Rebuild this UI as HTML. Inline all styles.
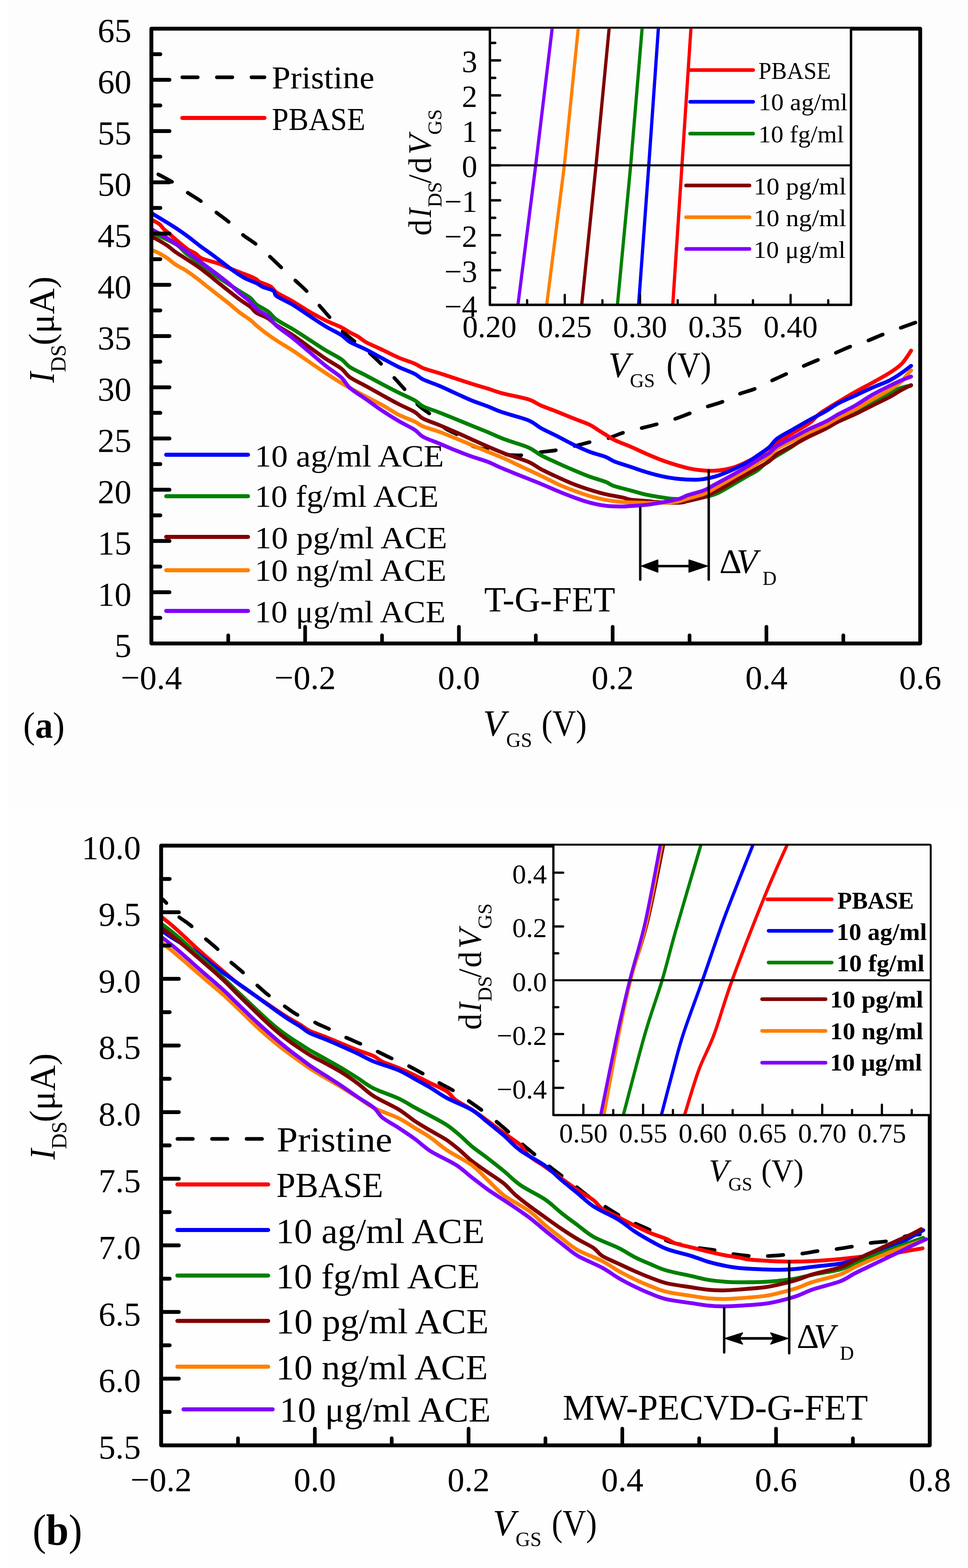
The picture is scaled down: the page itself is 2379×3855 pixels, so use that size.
<!DOCTYPE html>
<html><head><meta charset="utf-8"><title>Figure</title>
<style>html,body{margin:0;padding:0;background:#fff;}svg{display:block;}</style>
</head><body>
<svg xmlns="http://www.w3.org/2000/svg" width="2379" height="3855" viewBox="0 0 2379 3855" font-family='"Liberation Serif", "DejaVu Serif", serif'>
<defs>
<clipPath id="ca"><rect x="372" y="70.5" width="1889.5" height="1511.5"/></clipPath>
<clipPath id="cia"><rect x="1204" y="70.5" width="887.5" height="679"/></clipPath>
<clipPath id="cb"><rect x="396" y="2079" width="1889" height="1474.5"/></clipPath>
<clipPath id="cib"><rect x="1360" y="2079" width="925" height="662.5"/></clipPath>
</defs>
<rect x="0" y="0" width="2379" height="3855" fill="#ffffff"/>
<rect x="17" y="0" width="2362" height="1984" fill="#fdfdfd"/>
<rect x="17" y="1984" width="2362" height="1871" fill="#fefefe"/>
<g id="panel-a">
<path d="M374 421 C376 422 377.3 422.3 386 427 C394.7 431.7 414.2 441.7 426 449 C437.8 456.3 445.3 463.2 457 471 C468.7 478.8 484.3 488 496 496 C507.7 504 515.7 510.5 527 519 C538.3 527.5 552.7 537.5 564 547 C575.3 556.5 584 567 595 576 C606 585 619.3 592.5 630 601 C640.7 609.5 648 616.8 659 627 C670 637.2 685.2 651.8 696 662 C706.8 672.2 713.8 678.5 724 688 C734.2 697.5 747.2 708.8 757 719 C766.8 729.2 774 738.7 783 749 C792 759.3 801.7 770.5 811 781 C820.3 791.5 828.8 802.2 839 812 C849.2 821.8 861 831.2 872 840 C883 848.8 893.7 855.3 905 865 C916.3 874.7 929.5 887.5 940 898 C950.5 908.5 958.7 917.8 968 928 C977.3 938.2 986 947.7 996 959 C1006 970.3 1017.7 986 1028 996 C1038.3 1006 1047 1009.5 1058 1019 C1069 1028.5 1082.8 1044.7 1094 1053 C1105.2 1061.3 1114.2 1062 1125 1069 C1135.8 1076 1147 1088.8 1159 1095 C1171 1101.2 1184.2 1102.5 1197 1106 C1209.8 1109.5 1225.5 1113.8 1236 1116 C1246.5 1118.2 1252.2 1118.5 1260 1119 C1267.8 1119.5 1272 1120.2 1283 1119 C1294 1117.8 1312.2 1114 1326 1112 C1339.8 1110 1352.5 1109.3 1366 1107 C1379.5 1104.7 1393 1101.3 1407 1098 C1421 1094.7 1436.2 1090.2 1450 1087 C1463.8 1083.8 1476.5 1082.8 1490 1079 C1503.5 1075.2 1517.5 1068.2 1531 1064 C1544.5 1059.8 1557.2 1057.5 1571 1054 C1584.8 1050.5 1600.3 1046.7 1614 1043 C1627.7 1039.3 1639.3 1036.5 1653 1032 C1666.7 1027.5 1682.5 1021.2 1696 1016 C1709.5 1010.8 1720.8 1005.7 1734 1001 C1747.2 996.3 1761.8 993.2 1775 988 C1788.2 982.8 1799.7 975.3 1813 970 C1826.3 964.7 1841.8 961.3 1855 956 C1868.2 950.7 1879.3 944 1892 938 C1904.7 932 1918 926 1931 920 C1944 914 1956.8 907.8 1970 902 C1983.2 896.2 1997 890.3 2010 885 C2023 879.7 2034.7 875.5 2048 870 C2061.3 864.5 2076.5 857.2 2090 852 C2103.5 846.8 2116 843.8 2129 839 C2142 834.2 2154.8 828.2 2168 823 C2181.2 817.8 2194.3 813 2208 808 C2221.7 803 2243 795.5 2250 793" fill="none" stroke="#000000" stroke-width="9" stroke-linecap="round" stroke-linejoin="round" stroke-dasharray="38 47.5" stroke-dashoffset="-17" clip-path="url(#ca)"/>
<path d="M372 539.7 C375.3 541.6 386.8 547.3 391.8 551.1 C396.8 554.9 397.7 558.5 401.8 562.5 C405.9 566.5 411.7 570.9 416.6 575.1 C421.6 579.4 426.5 584 431.5 588.3 C436.5 592.6 441.4 596.9 446.4 601 C451.4 605 455.5 609 461.3 612.9 C467.1 616.7 475.3 620 481.1 623.8 C486.9 627.5 486.9 631.3 496 635.3 C505.1 639.3 524.8 643.7 535.8 647.6 C546.8 651.6 553.5 655.1 562.3 658.7 C571.1 662.3 579.9 665.8 588.7 669.2 C597.5 672.7 608.3 676.6 615.2 679.5 C622.1 682.4 626 684.2 630 686.5 C634 688.9 633 690.6 638.9 693.5 C644.8 696.5 658.4 700.2 665.3 704.5 C672.1 708.8 670.9 713.3 680 719.3 C689.1 725.4 706.5 733.2 719.7 741 C732.9 748.7 746.2 757.9 759.4 765.6 C772.6 773.3 785.8 780.6 799 787.2 C812.2 793.7 828.5 799.8 838.7 804.8 C848.9 809.8 853.1 813.5 860 817.3 C866.9 821.1 873.4 823.6 880 827.6 C886.6 831.6 889.8 835.9 899.7 841.3 C909.6 846.7 926.2 853.6 939.4 859.9 C952.6 866.1 965.8 873.4 979 879 C992.2 884.7 1008.5 889.5 1018.7 893.8 C1028.9 898.2 1029.8 901.2 1040 905.1 C1050.2 909.1 1066.5 913.2 1079.7 917.5 C1092.9 921.7 1106.2 926.3 1119.4 930.6 C1132.6 935 1145.8 939.4 1159 943.5 C1172.2 947.6 1186 951.4 1198.7 955.4 C1211.4 959.3 1218.4 962.8 1235 967.2 C1251.6 971.6 1282.6 976.8 1298.4 981.8 C1314.2 986.8 1318.1 992.1 1330 997.2 C1341.9 1002.3 1356.5 1007.2 1369.7 1012.5 C1382.9 1017.8 1396.2 1023.4 1409.4 1028.7 C1422.6 1034 1438.9 1039.4 1449 1044.2 C1459.1 1048.9 1463.4 1053.1 1470 1057.2 C1476.6 1061.4 1482 1064.8 1488.7 1068.9 C1495.4 1073 1499.8 1076.9 1510 1081.8 C1520.2 1086.6 1536.5 1092.5 1549.7 1098.2 C1562.9 1103.9 1576.2 1110.4 1589.4 1116.1 C1602.6 1121.7 1615.8 1127.4 1629 1132.2 C1642.2 1137.1 1656.9 1141.6 1668.7 1145.1 C1680.5 1148.5 1689.8 1151 1700 1152.9 C1710.2 1154.9 1720.4 1156 1729.7 1156.7 C1739 1157.4 1747.2 1157.7 1756 1157.2 C1764.8 1156.8 1773.8 1155.8 1782.6 1154.1 C1791.4 1152.4 1800.3 1150.2 1809 1147.1 C1817.7 1144.1 1826.2 1140.2 1835 1135.8 C1843.8 1131.5 1853.7 1126.1 1862 1121 C1870.3 1115.9 1877 1111 1885 1105.3 C1893 1099.7 1899 1094.1 1909.7 1087.2 C1920.4 1080.3 1936.2 1071.8 1949.4 1064 C1962.6 1056.2 1978 1048.5 1989 1040.5 C2000 1032.6 2003.7 1024.9 2015.5 1016.2 C2027.3 1007.5 2045.6 997.1 2060 988.4 C2074.4 979.6 2087.8 971.6 2101.7 963.7 C2115.6 955.9 2129.4 949 2143.3 941.3 C2157.2 933.6 2173.4 924.8 2185 917.5 C2196.6 910.2 2205.9 903.6 2212.8 897.5 C2219.8 891.4 2222.3 886.8 2226.7 880.9 C2231.1 875 2237.1 865.1 2239.2 862" fill="none" stroke="#ff0000" stroke-width="9.5" stroke-linecap="round" stroke-linejoin="round" clip-path="url(#ca)"/>
<path d="M372 523.8 C377 526.8 391.9 535.6 401.8 541.7 C411.7 547.8 421.6 553.7 431.5 560.3 C441.4 566.9 451.4 573.8 461.3 581.1 C471.2 588.4 480.9 596.6 491 604.2 C501.1 611.8 512.3 619.3 522 626.5 C531.7 633.7 540.1 640.4 549 647.1 C557.9 653.9 566.7 660.9 575.5 667.1 C584.3 673.3 592.9 679.3 602 684.1 C611.1 689 622.8 692.5 630 696.1 C637.2 699.6 638.5 702.3 645.5 705.4 C652.5 708.6 666.2 711.2 672 715 C677.8 718.8 672 722.3 680 728.1 C688 733.8 706.5 741.6 719.7 749.5 C732.9 757.5 746.2 767.2 759.4 775.9 C772.6 784.6 785.8 793.7 799 801.7 C812.2 809.7 828.5 817.2 838.7 823.7 C848.9 830.2 849.8 834.9 860 840.8 C870.2 846.7 886.5 852.6 899.7 859.4 C912.9 866.1 926.2 873.9 939.4 881 C952.6 888.1 965.8 895.5 979 901.9 C992.2 908.2 1008.5 913.9 1018.7 919.1 C1028.9 924.3 1029.8 928.1 1040 933.1 C1050.2 938 1066.5 943 1079.7 948.6 C1092.9 954.2 1106.2 960.7 1119.4 966.7 C1132.6 972.6 1145.8 979.1 1159 984.5 C1172.2 989.9 1185.9 994.2 1198.7 999.1 C1211.5 1004.1 1219.4 1008.4 1236 1014.1 C1252.6 1019.8 1282.7 1026.9 1298.4 1033.4 C1314.1 1039.8 1318.1 1046.2 1330 1052.8 C1341.9 1059.3 1356.5 1065.8 1369.7 1072.5 C1382.9 1079.2 1396.2 1086.8 1409.4 1093.2 C1422.6 1099.5 1435.8 1105.6 1449 1110.7 C1462.2 1115.8 1478.5 1119.5 1488.7 1123.5 C1498.9 1127.5 1499.8 1130.6 1510 1134.7 C1520.2 1138.7 1536.5 1143.4 1549.7 1147.8 C1562.9 1152.2 1576.2 1157.1 1589.4 1161 C1602.6 1165 1615.8 1168.6 1629 1171.3 C1642.2 1174 1655.2 1176.2 1668.7 1177.5 C1682.2 1178.9 1699.8 1179.4 1710 1179.4 C1720.2 1179.4 1722 1178.9 1729.7 1177.7 C1737.4 1176.5 1747.2 1174.6 1756 1172.1 C1764.8 1169.6 1773.8 1166.1 1782.6 1162.6 C1791.4 1159 1800.2 1155.2 1809 1151 C1817.8 1146.8 1826.7 1142.6 1835.5 1137.4 C1844.3 1132.2 1852.9 1126 1862 1119.8 C1871.1 1113.5 1882 1106.8 1890 1099.9 C1898 1093 1899.8 1086 1909.7 1078.5 C1919.6 1071.1 1936.2 1062.9 1949.4 1055.3 C1962.6 1047.7 1975.8 1040 1989 1032.7 C2002.2 1025.4 2016.9 1018.3 2028.7 1011.5 C2040.5 1004.6 2047.8 998.2 2060 991.8 C2072.2 985.3 2087.8 979 2101.7 972.6 C2115.6 966.1 2129.4 959.4 2143.3 953.3 C2157.2 947.2 2173.4 941.6 2185 935.9 C2196.6 930.2 2203.8 925.2 2212.8 919.1 C2221.8 913 2234.8 902.7 2239.2 899.4" fill="none" stroke="#0000ff" stroke-width="9.5" stroke-linecap="round" stroke-linejoin="round" clip-path="url(#ca)"/>
<path d="M372 571.4 C381.9 576.2 417.4 591.5 431.5 600 C445.6 608.4 447.9 615.3 456.5 622.3 C465.1 629.3 474.1 635.4 482.9 642 C491.7 648.6 500.6 655.4 509.4 662 C518.2 668.6 527 675.3 535.8 681.5 C544.6 687.7 553.5 693.3 562.3 699 C571.1 704.7 579.9 710.2 588.7 715.8 C597.5 721.3 608.3 727 615.2 732.4 C622.1 737.9 622.8 742.8 630 748.4 C637.2 753.9 650.4 759.6 658.7 765.9 C667 772.2 669.8 778.8 680 786 C690.2 793.2 706.5 801.2 719.7 809.3 C732.9 817.4 746.2 826.2 759.4 834.7 C772.6 843.2 785.8 852.3 799 860.4 C812.2 868.4 828.5 876.2 838.7 883.2 C848.9 890.3 849.8 895.9 860 902.5 C870.2 909.2 886.5 916.2 899.7 923.2 C912.9 930.2 926.2 937.6 939.4 944.5 C952.6 951.5 965.8 958.4 979 965 C992.2 971.6 1008.5 978.3 1018.7 984 C1028.9 989.7 1029.8 994.2 1040 999.2 C1050.2 1004.2 1066.5 1008.9 1079.7 1014.1 C1092.9 1019.3 1106.2 1024.8 1119.4 1030.2 C1132.6 1035.5 1145.8 1041 1159 1046.3 C1172.2 1051.7 1185.2 1056.8 1198.7 1062.4 C1212.2 1068 1223.4 1073.8 1240 1080 C1256.6 1086.3 1283.4 1093.5 1298.4 1100.1 C1313.4 1106.7 1318.1 1113.2 1330 1119.5 C1341.9 1125.9 1356.5 1132.1 1369.7 1138.2 C1382.9 1144.2 1396.2 1150 1409.4 1155.7 C1422.6 1161.3 1435.8 1167 1449 1171.8 C1462.2 1176.7 1478.8 1181 1488.7 1184.8 C1498.6 1188.6 1498.4 1191.2 1508.6 1194.7 C1518.8 1198.1 1536.2 1202.1 1549.7 1205.8 C1563.2 1209.4 1576.2 1213.5 1589.4 1216.4 C1602.6 1219.3 1618 1221.5 1629 1223.2 C1640 1224.9 1645.3 1225.9 1655.5 1226.6 C1665.7 1227.4 1679.2 1228 1690 1227.6 C1700.8 1227.3 1709 1226.5 1720 1224.5 C1731 1222.5 1745.6 1219.3 1756 1215.6 C1766.4 1211.9 1773.8 1207 1782.6 1202.2 C1791.4 1197.3 1800.2 1191.8 1809 1186.7 C1817.8 1181.5 1826.7 1176.2 1835.5 1171.1 C1844.3 1166 1852.9 1162.4 1862 1156 C1871.1 1149.7 1875.5 1142.8 1890 1132.8 C1904.5 1122.8 1930.7 1108.4 1949 1096.2 C1967.3 1084.1 1981.5 1070.3 2000 1059.8 C2018.5 1049.2 2043 1040.8 2060 1032.8 C2077 1024.7 2088.2 1018.5 2102 1011.2 C2115.8 1004 2129.2 996.5 2143 989.2 C2156.8 982 2173.3 973.9 2185 968 C2196.7 962.1 2204 957.3 2213 954 C2222 950.7 2234.7 949 2239 948" fill="none" stroke="#008000" stroke-width="9.5" stroke-linecap="round" stroke-linejoin="round" clip-path="url(#ca)"/>
<path d="M372 581.3 C375.3 583 385.2 588 391.8 591.8 C398.4 595.6 405.2 599.6 411.7 604.2 C418.2 608.8 423.5 614 431 619.3 C438.5 624.6 447.9 630.2 456.5 635.9 C465.1 641.5 474.1 647.1 482.9 653.2 C491.7 659.4 500.6 666 509.4 672.9 C518.2 679.7 527 687.3 535.8 694.4 C544.6 701.5 553.5 708.6 562.3 715.5 C571.1 722.5 579.9 729.6 588.7 736.1 C597.5 742.5 608.3 748.9 615.2 754.4 C622.1 759.9 622.8 764.2 630 769 C637.2 773.7 650.4 777.5 658.7 782.7 C667 787.9 669.8 793.1 680 800 C690.2 806.9 706.5 815.3 719.7 824.1 C732.9 832.9 746.2 843.3 759.4 852.8 C772.6 862.2 785.8 872.1 799 881 C812.2 889.9 828.5 898.3 838.7 906 C848.9 913.8 849.8 920.4 860 927.6 C870.2 934.8 886.5 942 899.7 949.3 C912.9 956.7 926.2 964.4 939.4 971.6 C952.6 978.9 965.8 986.3 979 993.1 C992.2 1000 1008.5 1006.6 1018.7 1012.6 C1028.9 1018.7 1029.8 1023.9 1040 1029.3 C1050.2 1034.7 1066.5 1039.7 1079.7 1045.1 C1092.9 1050.6 1106.2 1056.4 1119.4 1062.2 C1132.6 1068 1145.8 1074.2 1159 1080.1 C1172.2 1086 1184.5 1091.7 1198.7 1097.7 C1212.9 1103.8 1227.4 1110.1 1244 1116.4 C1260.6 1122.7 1284.1 1129.2 1298.4 1135.4 C1312.7 1141.6 1318.1 1147.5 1330 1153.7 C1341.9 1159.9 1356.5 1166.7 1369.7 1172.7 C1382.9 1178.8 1396.2 1184.9 1409.4 1190.1 C1422.6 1195.3 1435.8 1199.8 1449 1204 C1462.2 1208.2 1475.2 1212 1488.7 1215.2 C1502.2 1218.4 1519.8 1221 1530 1223.2 C1540.2 1225.4 1539.8 1227 1549.7 1228.4 C1559.6 1229.8 1578.4 1230.8 1589.4 1231.8 C1600.4 1232.8 1602.6 1233.8 1615.8 1234.5 C1629 1235.2 1656.3 1236.4 1668.7 1236 C1681.1 1235.5 1679.8 1234.3 1690 1231.9 C1700.2 1229.6 1718.7 1225.7 1729.7 1222 C1740.7 1218.3 1747.2 1214 1756 1209.7 C1764.8 1205.3 1773.8 1200.5 1782.6 1195.6 C1791.4 1190.7 1800.2 1185.4 1809 1180.4 C1817.8 1175.4 1826.7 1170.5 1835.5 1165.5 C1844.3 1160.5 1852.9 1155.6 1862 1150.4 C1871.1 1145.2 1882 1140 1890 1134.3 C1898 1128.6 1899.8 1122.7 1909.7 1116.1 C1919.6 1109.5 1936.2 1101.8 1949.4 1094.6 C1962.6 1087.5 1975.8 1079.8 1989 1073.1 C2002.2 1066.4 2016.9 1060.4 2028.7 1054.3 C2040.5 1048.3 2047.8 1042.7 2060 1036.7 C2072.2 1030.7 2087.8 1024.8 2101.7 1018.2 C2115.6 1011.7 2129.4 1004.3 2143.3 997.4 C2157.2 990.5 2173.4 983 2185 976.9 C2196.6 970.7 2203.8 965.4 2212.8 960.4 C2221.8 955.4 2234.8 949 2239.2 946.7" fill="none" stroke="#800000" stroke-width="9.5" stroke-linecap="round" stroke-linejoin="round" clip-path="url(#ca)"/>
<path d="M372 614.1 C375.3 615.6 385.2 619.5 391.8 623 C398.4 626.5 405.3 630.6 411.7 635 C418.1 639.5 422.5 644.5 430 649.4 C437.5 654.4 447.7 659.1 456.5 664.8 C465.3 670.5 474.1 676.8 482.9 683.5 C491.7 690.1 500.6 697.7 509.4 704.6 C518.2 711.6 527 718.3 535.8 725.2 C544.6 732.1 553.5 738.8 562.3 746 C571.1 753.2 579.9 761.4 588.7 768.1 C597.5 774.9 608.3 781.4 615.2 786.7 C622.1 792.1 624.2 795.3 630 800.2 C635.8 805.2 641.7 810 650 816.2 C658.3 822.4 668.4 829.7 680 837.4 C691.6 845 706.5 853.4 719.7 862 C732.9 870.7 746.2 880.3 759.4 889.3 C772.6 898.3 785.8 907.5 799 916.2 C812.2 925 824.1 932.9 838.7 941.6 C853.3 950.3 869.7 959.3 886.5 968.3 C903.3 977.3 924 987.3 939.4 995.8 C954.8 1004.3 965.8 1012.5 979 1019.2 C992.2 1026 1008.5 1031.4 1018.7 1036.3 C1028.9 1041.2 1029.8 1044.3 1040 1048.5 C1050.2 1052.7 1066.5 1056.7 1079.7 1061.6 C1092.9 1066.4 1106.2 1072 1119.4 1077.4 C1132.6 1082.8 1145.8 1088.5 1159 1094 C1172.2 1099.5 1185.2 1104.9 1198.7 1110.5 C1212.2 1116.1 1226.1 1121.4 1240 1127.5 C1253.9 1133.7 1266.9 1140.5 1281.9 1147.5 C1296.9 1154.6 1315.4 1162.9 1330 1170 C1344.6 1177 1356.5 1183.7 1369.7 1189.7 C1382.9 1195.7 1396.2 1201 1409.4 1205.9 C1422.6 1210.9 1435.8 1215.6 1449 1219.5 C1462.2 1223.4 1475.2 1226.6 1488.7 1229.1 C1502.2 1231.5 1513.2 1233 1530 1234.2 C1546.8 1235.3 1572.9 1235.8 1589.4 1236.2 C1605.9 1236.5 1616.4 1236.6 1629 1236.1 C1641.6 1235.6 1654.8 1234.9 1665 1233.2 C1675.2 1231.5 1679.2 1229.1 1690 1226 C1700.8 1222.8 1718.7 1218.7 1729.7 1214.4 C1740.7 1210.2 1747.2 1205.4 1756 1200.5 C1764.8 1195.7 1773.8 1190.4 1782.6 1185.3 C1791.4 1180.2 1800.2 1174.9 1809 1169.8 C1817.8 1164.7 1826.7 1159.8 1835.5 1154.6 C1844.3 1149.4 1852.9 1144 1862 1138.5 C1871.1 1133 1882 1127.3 1890 1121.5 C1898 1115.6 1899.8 1109.8 1909.7 1103.3 C1919.6 1096.8 1936.2 1089.5 1949.4 1082.7 C1962.6 1075.9 1975.8 1068.9 1989 1062.5 C2002.2 1056.2 2016.9 1050.7 2028.7 1044.8 C2040.5 1038.8 2047.8 1033.4 2060 1027 C2072.2 1020.7 2087.8 1014 2101.7 1006.6 C2115.6 999.1 2129.4 990.3 2143.3 982.4 C2157.2 974.5 2173.4 966.2 2185 959.2 C2196.6 952.1 2205.9 946.1 2212.8 940.2 C2219.8 934.4 2222.3 929.2 2226.7 924.3 C2231.1 919.4 2237.1 912.9 2239.2 910.6" fill="none" stroke="#ff8000" stroke-width="9.5" stroke-linecap="round" stroke-linejoin="round" clip-path="url(#ca)"/>
<path d="M372 563.5 C375.3 565.3 385.2 570.4 391.8 574.1 C398.4 577.9 405.1 581.6 411.7 585.8 C418.3 590 424 594.1 431.5 599.2 C439 604.3 447.9 610.2 456.5 616.4 C465.1 622.6 474.1 629.7 482.9 636.4 C491.7 643 500.6 649.8 509.4 656.4 C518.2 663 527 669.2 535.8 675.9 C544.6 682.6 553.5 689.3 562.3 696.7 C571.1 704.1 579.9 712.9 588.7 720.5 C597.5 728.1 608.3 735.7 615.2 742.2 C622.1 748.7 622.8 753.5 630 759.4 C637.2 765.4 650.4 770.7 658.7 777.7 C667 784.7 669.8 792.4 680 801.3 C690.2 810.2 706.5 820.7 719.7 831.3 C732.9 841.9 746.2 853.5 759.4 864.7 C772.6 875.8 785.8 887.7 799 898.2 C812.2 908.8 828.5 918.8 838.7 928 C848.9 937.3 849.8 945 860 953.9 C870.2 962.9 886.5 972.4 899.7 981.7 C912.9 991 926.2 1001 939.4 1009.8 C952.6 1018.6 965.8 1026.9 979 1034.7 C992.2 1042.5 1008.5 1049.9 1018.7 1056.5 C1028.9 1063.1 1029.8 1068.6 1040 1074.2 C1050.2 1079.9 1066.5 1085 1079.7 1090.5 C1092.9 1096 1106.2 1101.9 1119.4 1107.2 C1132.6 1112.5 1145.7 1117.6 1159 1122.3 C1172.3 1127 1186.8 1130.8 1199 1135.5 C1211.2 1140.1 1218.8 1144.7 1232.3 1150.5 C1245.8 1156.2 1263.7 1163.3 1280 1169.9 C1296.3 1176.4 1315 1183.6 1330 1189.8 C1345 1196 1356.5 1201.5 1369.7 1206.9 C1382.9 1212.4 1396.2 1217.7 1409.4 1222.5 C1422.6 1227.3 1435.8 1232.2 1449 1235.7 C1462.2 1239.2 1475.2 1241.9 1488.7 1243.5 C1502.2 1245.1 1519.8 1245.2 1530 1245.2 C1540.2 1245.3 1539.8 1244.6 1549.7 1244 C1559.6 1243.3 1576.2 1242.6 1589.4 1241.1 C1602.6 1239.5 1615.8 1237.2 1629 1234.8 C1642.2 1232.4 1658.5 1229.4 1668.7 1226.5 C1678.9 1223.7 1679.8 1221.1 1690 1217.6 C1700.2 1214.1 1718.7 1209.9 1729.7 1205.6 C1740.7 1201.3 1747.2 1196.3 1756 1191.7 C1764.8 1187 1773.8 1182.2 1782.6 1177.4 C1791.4 1172.6 1800.2 1167.8 1809 1162.9 C1817.8 1157.9 1826.7 1153 1835.5 1147.7 C1844.3 1142.3 1852.9 1136.5 1862 1130.9 C1871.1 1125.3 1882 1119.9 1890 1114.2 C1898 1108.5 1899.8 1103.1 1909.7 1096.7 C1919.6 1090.2 1936.2 1082.4 1949.4 1075.4 C1962.6 1068.4 1975.8 1061 1989 1054.6 C2002.2 1048.2 2016.9 1042.7 2028.7 1036.8 C2040.5 1030.8 2047.8 1025.4 2060 1018.8 C2072.2 1012.2 2087.8 1005 2101.7 997 C2115.6 989 2129.4 978.9 2143.3 971 C2157.2 963 2173.4 955.1 2185 949.3 C2196.6 943.5 2203.8 940 2212.8 936.1 C2221.8 932.2 2234.8 927.5 2239.2 925.8" fill="none" stroke="#8000ff" stroke-width="9.5" stroke-linecap="round" stroke-linejoin="round" clip-path="url(#ca)"/>
<rect x="372" y="70.5" width="1889.5" height="1511.5" fill="none" stroke="#000" stroke-width="9.5" stroke-linejoin="round"/>
<line x1="372" y1="1519.1" x2="394" y2="1519.1" stroke="#000000" stroke-width="9.5" stroke-linecap="round"/>
<line x1="372" y1="1456.1" x2="416.5" y2="1456.1" stroke="#000000" stroke-width="9.5" stroke-linecap="round"/>
<line x1="372" y1="1393.1" x2="394" y2="1393.1" stroke="#000000" stroke-width="9.5" stroke-linecap="round"/>
<line x1="372" y1="1330.1" x2="416.5" y2="1330.1" stroke="#000000" stroke-width="9.5" stroke-linecap="round"/>
<line x1="372" y1="1267.1" x2="394" y2="1267.1" stroke="#000000" stroke-width="9.5" stroke-linecap="round"/>
<line x1="372" y1="1204.1" x2="416.5" y2="1204.1" stroke="#000000" stroke-width="9.5" stroke-linecap="round"/>
<line x1="372" y1="1141.1" x2="394" y2="1141.1" stroke="#000000" stroke-width="9.5" stroke-linecap="round"/>
<line x1="372" y1="1078.1" x2="416.5" y2="1078.1" stroke="#000000" stroke-width="9.5" stroke-linecap="round"/>
<line x1="372" y1="1015.1" x2="394" y2="1015.1" stroke="#000000" stroke-width="9.5" stroke-linecap="round"/>
<line x1="372" y1="952.2" x2="416.5" y2="952.2" stroke="#000000" stroke-width="9.5" stroke-linecap="round"/>
<line x1="372" y1="889.2" x2="394" y2="889.2" stroke="#000000" stroke-width="9.5" stroke-linecap="round"/>
<line x1="372" y1="826.2" x2="416.5" y2="826.2" stroke="#000000" stroke-width="9.5" stroke-linecap="round"/>
<line x1="372" y1="763.2" x2="394" y2="763.2" stroke="#000000" stroke-width="9.5" stroke-linecap="round"/>
<line x1="372" y1="700.2" x2="416.5" y2="700.2" stroke="#000000" stroke-width="9.5" stroke-linecap="round"/>
<line x1="372" y1="637.2" x2="394" y2="637.2" stroke="#000000" stroke-width="9.5" stroke-linecap="round"/>
<line x1="372" y1="574.2" x2="416.5" y2="574.2" stroke="#000000" stroke-width="9.5" stroke-linecap="round"/>
<line x1="372" y1="511.2" x2="394" y2="511.2" stroke="#000000" stroke-width="9.5" stroke-linecap="round"/>
<line x1="372" y1="448.2" x2="416.5" y2="448.2" stroke="#000000" stroke-width="9.5" stroke-linecap="round"/>
<line x1="372" y1="385.3" x2="394" y2="385.3" stroke="#000000" stroke-width="9.5" stroke-linecap="round"/>
<line x1="372" y1="322.3" x2="416.5" y2="322.3" stroke="#000000" stroke-width="9.5" stroke-linecap="round"/>
<line x1="372" y1="259.3" x2="394" y2="259.3" stroke="#000000" stroke-width="9.5" stroke-linecap="round"/>
<line x1="372" y1="196.3" x2="416.5" y2="196.3" stroke="#000000" stroke-width="9.5" stroke-linecap="round"/>
<line x1="372" y1="133.3" x2="394" y2="133.3" stroke="#000000" stroke-width="9.5" stroke-linecap="round"/>
<line x1="560.9" y1="1582" x2="560.9" y2="1562" stroke="#000000" stroke-width="9" stroke-linecap="round"/>
<line x1="749.9" y1="1582" x2="749.9" y2="1541" stroke="#000000" stroke-width="9" stroke-linecap="round"/>
<line x1="938.9" y1="1582" x2="938.9" y2="1562" stroke="#000000" stroke-width="9" stroke-linecap="round"/>
<line x1="1127.8" y1="1582" x2="1127.8" y2="1541" stroke="#000000" stroke-width="9" stroke-linecap="round"/>
<line x1="1316.8" y1="1582" x2="1316.8" y2="1562" stroke="#000000" stroke-width="9" stroke-linecap="round"/>
<line x1="1505.7" y1="1582" x2="1505.7" y2="1541" stroke="#000000" stroke-width="9" stroke-linecap="round"/>
<line x1="1694.7" y1="1582" x2="1694.7" y2="1562" stroke="#000000" stroke-width="9" stroke-linecap="round"/>
<line x1="1883.6" y1="1582" x2="1883.6" y2="1541" stroke="#000000" stroke-width="9" stroke-linecap="round"/>
<line x1="2072.6" y1="1582" x2="2072.6" y2="1562" stroke="#000000" stroke-width="9" stroke-linecap="round"/>
<text x="323" y="1615.1" font-size="83" text-anchor="end">5</text>
<text x="323" y="1489.1" font-size="83" text-anchor="end">10</text>
<text x="323" y="1363.1" font-size="83" text-anchor="end">15</text>
<text x="323" y="1237.1" font-size="83" text-anchor="end">20</text>
<text x="323" y="1111.1" font-size="83" text-anchor="end">25</text>
<text x="323" y="985.2" font-size="83" text-anchor="end">30</text>
<text x="323" y="859.2" font-size="83" text-anchor="end">35</text>
<text x="323" y="733.2" font-size="83" text-anchor="end">40</text>
<text x="323" y="607.2" font-size="83" text-anchor="end">45</text>
<text x="323" y="481.2" font-size="83" text-anchor="end">50</text>
<text x="323" y="355.3" font-size="83" text-anchor="end">55</text>
<text x="323" y="229.3" font-size="83" text-anchor="end">60</text>
<text x="323" y="103.3" font-size="83" text-anchor="end">65</text>
<text x="372" y="1694" font-size="83" text-anchor="middle">&#8722;0.4</text>
<text x="749.9" y="1694" font-size="83" text-anchor="middle">&#8722;0.2</text>
<text x="1127.8" y="1694" font-size="83" text-anchor="middle">0.0</text>
<text x="1505.7" y="1694" font-size="83" text-anchor="middle">0.2</text>
<text x="1883.6" y="1694" font-size="83" text-anchor="middle">0.4</text>
<text x="2261.5" y="1694" font-size="83" text-anchor="middle">0.6</text>
<text x="1187" y="1809" font-size="91" font-style="italic">V</text>
<text x="1244" y="1836" font-size="50">GS</text>
<text x="1331" y="1809" font-size="91" textLength="111" lengthAdjust="spacingAndGlyphs">(V)</text>
<g transform="translate(132,942) rotate(-90)">
<text transform="translate(1,0) scale(0.9,1)" font-size="88" font-style="italic">I</text>
<text x="27" y="29" font-size="53">DS</text>
<text x="93" y="0" font-size="88">(&#956;A)</text>
</g>
<text x="57" y="1814" font-size="92" textLength="102" lengthAdjust="spacingAndGlyphs">(<tspan font-weight="bold">a</tspan>)</text>
<path d="M448 190 L650 190" stroke="#000" stroke-width="9" stroke-linecap="round" stroke-dasharray="38 47"/>
<line x1="448" y1="290" x2="650" y2="290" stroke="#ff0000" stroke-width="10" stroke-linecap="round"/>
<text x="668" y="217" font-size="79" textLength="252" lengthAdjust="spacingAndGlyphs">Pristine</text>
<text x="668" y="319" font-size="79" textLength="230" lengthAdjust="spacingAndGlyphs">PBASE</text>
<line x1="408.5" y1="1118" x2="609.5" y2="1118" stroke="#0000ff" stroke-width="10" stroke-linecap="round"/>
<text x="626" y="1147" font-size="77" textLength="465" lengthAdjust="spacingAndGlyphs">10 ag/ml ACE</text>
<line x1="408.5" y1="1220" x2="609.5" y2="1220" stroke="#008000" stroke-width="10" stroke-linecap="round"/>
<text x="626" y="1246" font-size="77" textLength="452" lengthAdjust="spacingAndGlyphs">10 fg/ml ACE</text>
<line x1="408.5" y1="1320" x2="609.5" y2="1320" stroke="#800000" stroke-width="10" stroke-linecap="round"/>
<text x="626" y="1347.5" font-size="77" textLength="473" lengthAdjust="spacingAndGlyphs">10 pg/ml ACE</text>
<line x1="408.5" y1="1402" x2="609.5" y2="1402" stroke="#ff8000" stroke-width="10" stroke-linecap="round"/>
<text x="626" y="1428" font-size="77" textLength="471" lengthAdjust="spacingAndGlyphs">10 ng/ml ACE</text>
<line x1="408.5" y1="1502" x2="609.5" y2="1502" stroke="#8000ff" stroke-width="10" stroke-linecap="round"/>
<text x="626" y="1530" font-size="77" textLength="469" lengthAdjust="spacingAndGlyphs">10 &#956;g/ml ACE</text>
<text x="1190" y="1503" font-size="87" textLength="322" lengthAdjust="spacingAndGlyphs">T-G-FET</text>
<line x1="1573.5" y1="1248" x2="1573.5" y2="1425" stroke="#000000" stroke-width="6" stroke-linecap="round"/>
<line x1="1741.8" y1="1157" x2="1741.8" y2="1425" stroke="#000000" stroke-width="6" stroke-linecap="round"/>
<line x1="1610" y1="1391.7" x2="1700" y2="1391.7" stroke="#000000" stroke-width="6" stroke-linecap="butt"/>
<path d="M1577.5 1391.7 L1616.5 1377 L1616.5 1406.4 Z" fill="#000" stroke="#000" stroke-width="3" stroke-linejoin="round"/>
<path d="M1737.8 1391.7 L1693.5 1377 L1693.5 1406.4 Z" fill="#000" stroke="#000" stroke-width="3" stroke-linejoin="round"/>
<text x="1768" y="1409" font-size="85">&#916;</text>
<text x="1810" y="1409" font-size="85" font-style="italic">V</text>
<text x="1874" y="1438" font-size="48">D</text>
<rect x="1204" y="70.5" width="887.5" height="679" fill="#fdfdfd"/>
<path d="M1357.5 66 L1316.5 406.4 L1272.5 753" fill="none" stroke="#8000ff" stroke-width="8" stroke-linecap="round" stroke-linejoin="round" clip-path="url(#cia)"/>
<path d="M1421.5 66 L1387 406.4 L1343.2 753" fill="none" stroke="#ff8000" stroke-width="8" stroke-linecap="round" stroke-linejoin="round" clip-path="url(#cia)"/>
<path d="M1497.4 66 L1464.8 406.4 L1429.3 753" fill="none" stroke="#800000" stroke-width="8" stroke-linecap="round" stroke-linejoin="round" clip-path="url(#cia)"/>
<path d="M1578.4 66 L1550 406.4 L1517.1 753" fill="none" stroke="#008000" stroke-width="8" stroke-linecap="round" stroke-linejoin="round" clip-path="url(#cia)"/>
<path d="M1618.3 66 L1594.5 406.4 L1569.2 753" fill="none" stroke="#0000ff" stroke-width="8" stroke-linecap="round" stroke-linejoin="round" clip-path="url(#cia)"/>
<path d="M1698.3 66 L1676 406.4 L1653.2 753" fill="none" stroke="#ff0000" stroke-width="8" stroke-linecap="round" stroke-linejoin="round" clip-path="url(#cia)"/>
<line x1="1204" y1="406.4" x2="2091.5" y2="406.4" stroke="#000000" stroke-width="5" stroke-linecap="butt"/>
<path d="M1204 70.5 L1204 749.5 L2091.5 749.5 L2091.5 70.5" fill="none" stroke="#000" stroke-width="6" stroke-linejoin="round"/>
<line x1="1204" y1="707.3" x2="1217" y2="707.3" stroke="#000000" stroke-width="6" stroke-linecap="round"/>
<line x1="1204" y1="664.3" x2="1229" y2="664.3" stroke="#000000" stroke-width="6" stroke-linecap="round"/>
<line x1="1204" y1="621.3" x2="1217" y2="621.3" stroke="#000000" stroke-width="6" stroke-linecap="round"/>
<line x1="1204" y1="578.3" x2="1229" y2="578.3" stroke="#000000" stroke-width="6" stroke-linecap="round"/>
<line x1="1204" y1="535.4" x2="1217" y2="535.4" stroke="#000000" stroke-width="6" stroke-linecap="round"/>
<line x1="1204" y1="492.4" x2="1229" y2="492.4" stroke="#000000" stroke-width="6" stroke-linecap="round"/>
<line x1="1204" y1="449.4" x2="1217" y2="449.4" stroke="#000000" stroke-width="6" stroke-linecap="round"/>
<line x1="1204" y1="406.4" x2="1229" y2="406.4" stroke="#000000" stroke-width="6" stroke-linecap="round"/>
<line x1="1204" y1="363.4" x2="1217" y2="363.4" stroke="#000000" stroke-width="6" stroke-linecap="round"/>
<line x1="1204" y1="320.4" x2="1229" y2="320.4" stroke="#000000" stroke-width="6" stroke-linecap="round"/>
<line x1="1204" y1="277.4" x2="1217" y2="277.4" stroke="#000000" stroke-width="6" stroke-linecap="round"/>
<line x1="1204" y1="234.5" x2="1229" y2="234.5" stroke="#000000" stroke-width="6" stroke-linecap="round"/>
<line x1="1204" y1="191.5" x2="1217" y2="191.5" stroke="#000000" stroke-width="6" stroke-linecap="round"/>
<line x1="1204" y1="148.5" x2="1229" y2="148.5" stroke="#000000" stroke-width="6" stroke-linecap="round"/>
<line x1="1204" y1="105.5" x2="1217" y2="105.5" stroke="#000000" stroke-width="6" stroke-linecap="round"/>
<line x1="1295.5" y1="749.5" x2="1295.5" y2="738" stroke="#000000" stroke-width="5.5" stroke-linecap="round"/>
<line x1="1388" y1="749.5" x2="1388" y2="725" stroke="#000000" stroke-width="5.5" stroke-linecap="round"/>
<line x1="1480.5" y1="749.5" x2="1480.5" y2="738" stroke="#000000" stroke-width="5.5" stroke-linecap="round"/>
<line x1="1573" y1="749.5" x2="1573" y2="725" stroke="#000000" stroke-width="5.5" stroke-linecap="round"/>
<line x1="1665.5" y1="749.5" x2="1665.5" y2="738" stroke="#000000" stroke-width="5.5" stroke-linecap="round"/>
<line x1="1758" y1="749.5" x2="1758" y2="725" stroke="#000000" stroke-width="5.5" stroke-linecap="round"/>
<line x1="1850.5" y1="749.5" x2="1850.5" y2="738" stroke="#000000" stroke-width="5.5" stroke-linecap="round"/>
<line x1="1943" y1="749.5" x2="1943" y2="725" stroke="#000000" stroke-width="5.5" stroke-linecap="round"/>
<line x1="2035.5" y1="749.5" x2="2035.5" y2="738" stroke="#000000" stroke-width="5.5" stroke-linecap="round"/>
<text x="1173" y="778.8" font-size="76" text-anchor="end">&#8722;4</text>
<text x="1173" y="692.8" font-size="76" text-anchor="end">&#8722;3</text>
<text x="1173" y="606.8" font-size="76" text-anchor="end">&#8722;2</text>
<text x="1173" y="520.9" font-size="76" text-anchor="end">&#8722;1</text>
<text x="1173" y="434.9" font-size="76" text-anchor="end">0</text>
<text x="1173" y="348.9" font-size="76" text-anchor="end">1</text>
<text x="1173" y="263" font-size="76" text-anchor="end">2</text>
<text x="1173" y="177" font-size="76" text-anchor="end">3</text>
<text x="1203" y="829" font-size="76" text-anchor="middle">0.20</text>
<text x="1388" y="829" font-size="76" text-anchor="middle">0.25</text>
<text x="1573" y="829" font-size="76" text-anchor="middle">0.30</text>
<text x="1758" y="829" font-size="76" text-anchor="middle">0.35</text>
<text x="1943" y="829" font-size="76" text-anchor="middle">0.40</text>
<text x="1495" y="927" font-size="88" font-style="italic">V</text>
<text x="1548" y="952" font-size="48">GS</text>
<text x="1638" y="927" font-size="88" textLength="110" lengthAdjust="spacingAndGlyphs">(V)</text>
<g transform="translate(1058.6,579.4) rotate(-90)">
<text x="0" y="0" font-size="80">d</text>
<text transform="translate(45,0) scale(0.85,1)" font-size="80" font-style="italic">I</text>
<text x="69.6" y="26" font-size="49">DS</text>
<text x="128.2" y="0" font-size="80">/</text>
<text x="153" y="0" font-size="80">d</text>
<text x="199.4" y="0" font-size="80" font-style="italic">V</text>
<text x="248.2" y="26" font-size="49">GS</text>
</g>
<line x1="1696" y1="172.3" x2="1851" y2="172.3" stroke="#ff0000" stroke-width="9" stroke-linecap="round"/>
<text x="1864" y="193.7" font-size="60" textLength="178" lengthAdjust="spacingAndGlyphs">PBASE</text>
<line x1="1696" y1="250.3" x2="1851" y2="250.3" stroke="#0000ff" stroke-width="9" stroke-linecap="round"/>
<text x="1864" y="271.1" font-size="60" textLength="219" lengthAdjust="spacingAndGlyphs">10 ag/ml</text>
<line x1="1696" y1="328.6" x2="1851" y2="328.6" stroke="#008000" stroke-width="9" stroke-linecap="round"/>
<text x="1864" y="349.7" font-size="60" textLength="210" lengthAdjust="spacingAndGlyphs">10 fg/ml</text>
<line x1="1686" y1="456" x2="1842" y2="456" stroke="#800000" stroke-width="9" stroke-linecap="round"/>
<text x="1852" y="478" font-size="60" textLength="228" lengthAdjust="spacingAndGlyphs">10 pg/ml</text>
<line x1="1686" y1="534" x2="1842" y2="534" stroke="#ff8000" stroke-width="9" stroke-linecap="round"/>
<text x="1852" y="556" font-size="60" textLength="228" lengthAdjust="spacingAndGlyphs">10 ng/ml</text>
<line x1="1686" y1="612" x2="1842" y2="612" stroke="#8000ff" stroke-width="9" stroke-linecap="round"/>
<text x="1852" y="634" font-size="60" textLength="226" lengthAdjust="spacingAndGlyphs">10 &#956;g/ml</text>
</g>
<g id="panel-b">
<path d="M396 2208 C397.8 2209.7 401 2211.3 407 2218 C413 2224.7 422 2238.7 432 2248 C442 2257.3 455.8 2264.8 467 2274 C478.2 2283.2 488.2 2293.5 499 2303 C509.8 2312.5 521.7 2321.5 532 2331 C542.3 2340.5 550.7 2350.5 561 2360 C571.3 2369.5 583 2378.3 594 2388 C605 2397.7 616.2 2408.3 627 2418 C637.8 2427.7 647.8 2437.3 659 2446 C670.2 2454.7 682.3 2462 694 2470 C705.7 2478 717.3 2487.7 729 2494 C740.7 2500.3 755.5 2504.2 764 2508 C772.5 2511.8 773.2 2513.7 780 2517 C786.8 2520.3 795 2523.2 805 2528 C815 2532.8 827 2539.8 840 2546 C853 2552.2 869.8 2559.2 883 2565 C896.2 2570.8 906.2 2575 919 2581 C931.8 2587 947 2595 960 2601 C973 2607 984 2610.7 997 2617 C1010 2623.3 1025.3 2632 1038 2639 C1050.7 2646 1060.7 2652.2 1073 2659 C1085.3 2665.8 1100 2672.8 1112 2680 C1124 2687.2 1133.3 2694 1145 2702 C1156.7 2710 1170 2719.2 1182 2728 C1194 2736.8 1205.7 2745.8 1217 2755 C1228.3 2764.2 1239.5 2773.8 1250 2783 C1260.5 2792.2 1269 2800.5 1280 2810 C1291 2819.5 1304.7 2830.7 1316 2840 C1327.3 2849.3 1337 2857.3 1348 2866 C1359 2874.7 1371 2883.7 1382 2892 C1393 2900.3 1402.7 2907.3 1414 2916 C1425.3 2924.7 1438.5 2936 1450 2944 C1461.5 2952 1470.5 2956.3 1483 2964 C1495.5 2971.7 1512.3 2982.8 1525 2990 C1537.7 2997.2 1546.3 3001 1559 3007 C1571.7 3013 1587.5 3018.7 1601 3026 C1614.5 3033.3 1626.8 3045.2 1640 3051 C1653.2 3056.8 1667.3 3058.2 1680 3061 C1692.7 3063.8 1702.8 3065.8 1716 3068 C1729.2 3070.2 1744.8 3071.5 1759 3074 C1773.2 3076.5 1786.5 3080.7 1801 3083 C1815.5 3085.3 1832 3087.2 1846 3088 C1860 3088.8 1871 3088.5 1885 3088 C1899 3087.5 1915.7 3086 1930 3085 C1944.3 3084 1956.8 3083.7 1971 3082 C1985.2 3080.3 2001 3076.8 2015 3075 C2029 3073.2 2041 3072.8 2055 3071 C2069 3069.2 2085 3066.5 2099 3064 C2113 3061.5 2125 3058.2 2139 3056 C2153 3053.8 2168.2 3053.8 2183 3051 C2197.8 3048.2 2213.7 3041.8 2228 3039 C2242.3 3036.2 2262.2 3034.8 2269 3034" fill="none" stroke="#000000" stroke-width="9" stroke-linecap="round" stroke-linejoin="round" stroke-dasharray="38 47" stroke-dashoffset="20" clip-path="url(#cb)"/>
<path d="M396 2253.6 C400.4 2257.1 413.7 2267.3 422.5 2274.8 C431.3 2282.4 440.1 2290.6 448.9 2298.8 C457.7 2306.9 466.6 2315.6 475.4 2323.8 C484.2 2331.9 493 2339.8 501.8 2347.6 C510.6 2355.4 519.5 2363 528.3 2370.6 C537.1 2378.2 546.1 2385.8 554.7 2393.1 C563.3 2400.4 571.4 2407.6 580 2414.4 C588.6 2421.1 597.7 2427.5 606.5 2433.7 C615.3 2439.9 624.1 2445.8 632.9 2451.8 C641.7 2457.7 650.6 2463.7 659.4 2469.6 C668.2 2475.6 677 2481.7 685.8 2487.6 C694.6 2493.4 703.5 2499.2 712.3 2504.6 C721.1 2509.9 730.8 2514.8 738.7 2519.7 C746.7 2524.6 749.8 2529 760 2533.9 C770.2 2538.9 786.5 2544 799.7 2549.2 C812.9 2554.5 826.2 2560.2 839.4 2565.6 C852.6 2571 865.8 2576.6 879 2581.8 C892.2 2586.9 908.5 2591.7 918.7 2596.5 C928.9 2601.3 929.8 2605.5 940 2610.4 C950.2 2615.2 966.5 2620.1 979.7 2625.7 C992.9 2631.3 1006.2 2637.4 1019.4 2643.7 C1032.6 2650 1045.8 2656.8 1059 2663.5 C1072.2 2670.1 1088.5 2676.7 1098.7 2683.5 C1108.9 2690.3 1109.8 2696.9 1120 2704.3 C1130.2 2711.8 1146.5 2719.6 1159.7 2728.3 C1172.9 2736.9 1186.2 2746.7 1199.4 2756.3 C1212.6 2766 1225.8 2776.5 1239 2786.2 C1252.2 2796 1268.5 2805.7 1278.7 2814.9 C1288.9 2824.1 1289.8 2832.6 1300 2841.6 C1310.2 2850.5 1326.5 2859.3 1339.7 2868.6 C1352.9 2877.8 1366.2 2887.6 1379.4 2897.1 C1392.6 2906.6 1405.8 2916.5 1419 2925.5 C1432.2 2934.4 1448.5 2942.9 1458.7 2950.7 C1468.9 2958.5 1469.8 2965.1 1480 2972 C1490.2 2979 1506.5 2985.5 1519.7 2992.3 C1532.9 2999.1 1546.2 3006.4 1559.4 3012.9 C1572.6 3019.5 1585.8 3026.2 1599 3031.7 C1612.2 3037.2 1628.5 3041.9 1638.7 3046.1 C1648.9 3050.4 1649.8 3053.5 1660 3057 C1670.2 3060.4 1686.5 3063.6 1699.7 3066.9 C1712.9 3070.2 1726.2 3073.7 1739.4 3076.9 C1752.6 3080 1765.8 3083.1 1779 3085.6 C1792.2 3088.2 1808.5 3090.4 1818.7 3092.2 C1828.9 3094 1829.8 3095.3 1840 3096.5 C1850.2 3097.7 1866.5 3098.6 1879.7 3099.4 C1892.9 3100.2 1906.2 3101 1919.4 3101.3 C1932.6 3101.7 1945.8 3101.8 1959 3101.6 C1972.2 3101.5 1986.9 3100.9 1998.7 3100.3 C2010.5 3099.7 2019 3099 2030 3098.2 C2041 3097.4 2052.9 3096.5 2064.4 3095.4 C2075.9 3094.3 2087.3 3093 2098.8 3091.8 C2110.3 3090.6 2118.9 3089.4 2133.2 3088 C2147.5 3086.7 2170.5 3085.4 2184.8 3083.6 C2199.1 3081.8 2205.4 3079.6 2219.2 3077.2 C2232.9 3074.8 2259.3 3070.5 2267.3 3069.1" fill="none" stroke="#ff0000" stroke-width="9.5" stroke-linecap="round" stroke-linejoin="round" clip-path="url(#cb)"/>
<path d="M396 2287 C399.5 2289.5 409.2 2296.7 417 2301.8 C424.8 2306.9 433.3 2311.9 443 2317.6 C452.7 2323.3 465.6 2329.5 475.4 2336 C485.2 2342.5 493 2349.7 501.8 2356.5 C510.6 2363.3 519.5 2370.3 528.3 2376.8 C537.1 2383.4 546.1 2389.6 554.7 2395.8 C563.3 2402 571.4 2407.9 580 2414 C588.6 2420.2 597.7 2426.4 606.5 2432.6 C615.3 2438.9 624.1 2445.3 632.9 2451.7 C641.7 2458.1 650.6 2464.6 659.4 2471 C668.2 2477.3 677 2483.9 685.8 2490 C694.6 2496.2 703.5 2502.4 712.3 2508.1 C721.1 2513.8 730.8 2519 738.7 2524.2 C746.7 2529.4 749.8 2534.1 760 2539.2 C770.2 2544.4 786.5 2549.7 799.7 2555.2 C812.9 2560.8 826.2 2566.5 839.4 2572.4 C852.6 2578.2 865.8 2584 879 2590.3 C892.2 2596.6 901.9 2603.1 918.7 2609.9 C935.5 2616.7 962.9 2624.1 979.7 2631.3 C996.5 2638.4 1006.2 2645.6 1019.4 2652.9 C1032.6 2660.1 1045.8 2667 1059 2674.8 C1072.2 2682.7 1081.9 2690.8 1098.7 2699.8 C1115.5 2708.8 1142.9 2718.9 1159.7 2728.9 C1176.5 2738.9 1186.2 2749.3 1199.4 2759.9 C1212.6 2770.5 1225.8 2781 1239 2792.4 C1252.2 2803.8 1261.9 2816 1278.7 2828.3 C1295.5 2840.6 1322.9 2853.9 1339.7 2866 C1356.5 2878.1 1366.2 2889.8 1379.4 2901 C1392.6 2912.2 1405.8 2922.4 1419 2933.2 C1432.2 2944 1441.9 2955 1458.7 2965.9 C1475.5 2976.8 1502.9 2988.3 1519.7 2998.6 C1536.5 3008.8 1546.2 3018.6 1559.4 3027.3 C1572.6 3036 1585.8 3043.6 1599 3050.8 C1612.2 3058 1621.9 3064.5 1638.7 3070.7 C1655.5 3077 1682.9 3082.9 1699.7 3088.1 C1716.5 3093.3 1726.2 3098 1739.4 3101.9 C1752.6 3105.8 1765.8 3108.9 1779 3111.5 C1792.2 3114.1 1801.9 3116.1 1818.7 3117.7 C1835.5 3119.2 1862.9 3120.3 1879.7 3121 C1896.5 3121.7 1906.2 3121.9 1919.4 3121.7 C1932.6 3121.4 1945.8 3120.8 1959 3119.5 C1972.2 3118.3 1981.1 3116.5 1998.7 3114.4 C2016.3 3112.3 2047.7 3109.6 2064.4 3106.8 C2081.1 3104.1 2087.3 3101 2098.8 3097.8 C2110.3 3094.5 2121.7 3091 2133.2 3087.1 C2144.7 3083.2 2156.1 3078.8 2167.6 3074.3 C2179.1 3069.7 2190.5 3064.9 2202 3059.7 C2213.5 3054.5 2225.2 3049 2236.4 3043.1 C2247.6 3037.2 2263.6 3027.5 2269 3024.4" fill="none" stroke="#0000ff" stroke-width="9.5" stroke-linecap="round" stroke-linejoin="round" clip-path="url(#cb)"/>
<path d="M396 2270.8 C400.4 2274.2 413.7 2283.9 422.5 2291 C431.3 2298.1 440.1 2305.6 448.9 2313.3 C457.7 2321.1 466.6 2329.4 475.4 2337.5 C484.2 2345.6 493 2353.9 501.8 2362 C510.6 2370 519.5 2378 528.3 2386 C537.1 2394 546.1 2402 554.7 2410.1 C563.3 2418.2 571.4 2426.4 580 2434.7 C588.6 2442.9 597.7 2451.3 606.5 2459.7 C615.3 2468 624.1 2476.5 632.9 2484.8 C641.7 2493.1 650.6 2501.5 659.4 2509.3 C668.2 2517 677 2524.6 685.8 2531.5 C694.6 2538.4 703.5 2544.7 712.3 2550.7 C721.1 2556.7 729.9 2562.1 738.7 2567.6 C747.5 2573.2 754.8 2578.3 765 2584.2 C775.2 2590.1 787.3 2596.3 799.7 2603.3 C812.1 2610.2 826.2 2618 839.4 2625.8 C852.6 2633.7 865.8 2642.2 879 2650.5 C892.2 2658.9 901.9 2667.7 918.7 2676.1 C935.5 2684.4 962.9 2693 979.7 2700.8 C996.5 2708.6 1006.2 2715.8 1019.4 2723 C1032.6 2730.2 1045.8 2736.8 1059 2744 C1072.2 2751.2 1086.9 2758.5 1098.7 2766.3 C1110.5 2774.2 1119.8 2782.4 1130 2791.1 C1140.2 2799.8 1148.1 2809 1159.7 2818.5 C1171.3 2828 1186.2 2838 1199.4 2848.2 C1212.6 2858.4 1225.8 2868.7 1239 2879.6 C1252.2 2890.5 1261.9 2902 1278.7 2913.5 C1295.5 2925.1 1322.9 2937.6 1339.7 2949 C1356.5 2960.4 1366.2 2971.5 1379.4 2981.9 C1392.6 2992.4 1405.8 3001.9 1419 3011.7 C1432.2 3021.6 1441.9 3031.4 1458.7 3040.8 C1475.5 3050.2 1502.9 3059.8 1519.7 3068 C1536.5 3076.3 1546.2 3083.8 1559.4 3090.4 C1572.6 3097.1 1585.8 3102.6 1599 3108.2 C1612.2 3113.8 1621.9 3119 1638.7 3123.8 C1655.5 3128.7 1682.9 3133.5 1699.7 3137.3 C1716.5 3141 1726.2 3144.1 1739.4 3146.4 C1752.6 3148.7 1765.8 3149.9 1779 3150.9 C1792.2 3152 1801.9 3152.4 1818.7 3152.5 C1835.5 3152.6 1862.9 3152.3 1879.7 3151.6 C1896.5 3150.9 1906.2 3149.8 1919.4 3148.3 C1932.6 3146.8 1945.8 3145.1 1959 3142.6 C1972.2 3140.2 1981.1 3137.2 1998.7 3133.6 C2016.3 3130 2047.7 3125.5 2064.4 3121.1 C2081.1 3116.7 2087.3 3111.8 2098.8 3107.1 C2110.3 3102.4 2121.7 3097.8 2133.2 3093.2 C2144.7 3088.6 2156.1 3084 2167.6 3079.6 C2179.1 3075.2 2190.5 3070.8 2202 3066.6 C2213.5 3062.5 2225.2 3058.5 2236.4 3054.7 C2247.6 3050.8 2263.6 3045.2 2269 3043.3" fill="none" stroke="#008000" stroke-width="9.5" stroke-linecap="round" stroke-linejoin="round" clip-path="url(#cb)"/>
<path d="M396 2280.7 C400.4 2284.1 413.7 2293.9 422.5 2300.9 C431.3 2307.8 440.1 2315 448.9 2322.3 C457.7 2329.6 466.6 2337.2 475.4 2344.8 C484.2 2352.3 493 2360 501.8 2367.6 C510.6 2375.3 519.5 2382.9 528.3 2390.8 C537.1 2398.6 546.1 2406.7 554.7 2415 C563.3 2423.3 571.4 2432 580 2440.6 C588.6 2449.1 597.7 2457.9 606.5 2466.5 C615.3 2475.1 624.1 2483.7 632.9 2492.2 C641.7 2500.7 650.6 2509.3 659.4 2517.3 C668.2 2525.4 677 2533.3 685.8 2540.5 C694.6 2547.8 703.5 2554.6 712.3 2561 C721.1 2567.4 729.9 2573.3 738.7 2579.1 C747.5 2584.9 754.8 2590 765 2595.9 C775.2 2601.8 787.3 2607.4 799.7 2614.2 C812.1 2621 826.2 2628.3 839.4 2636.5 C852.6 2644.7 865.8 2653.8 879 2663.6 C892.2 2673.3 901.9 2684.4 918.7 2695.1 C935.5 2705.8 962.9 2717.5 979.7 2727.6 C996.5 2737.8 1006.2 2747.4 1019.4 2756.1 C1032.6 2764.9 1045.8 2772.3 1059 2780.2 C1072.2 2788.1 1086.9 2795.4 1098.7 2803.4 C1110.5 2811.4 1119.8 2819.5 1130 2828 C1140.2 2836.5 1148.1 2845.5 1159.7 2854.6 C1171.3 2863.7 1186.2 2873.4 1199.4 2882.7 C1212.6 2892 1228 2901.2 1239 2910.2 C1250 2919.2 1255.3 2927.7 1265.5 2936.6 C1275.7 2945.6 1287.6 2954.7 1300 2964.1 C1312.4 2973.4 1326.5 2983.4 1339.7 2992.8 C1352.9 3002.3 1366.2 3011.9 1379.4 3020.8 C1392.6 3029.7 1405.8 3038.3 1419 3046.2 C1432.2 3054.1 1448.5 3061.3 1458.7 3068.2 C1468.9 3075.2 1469.8 3081.4 1480 3087.8 C1490.2 3094.2 1506.5 3100.4 1519.7 3106.7 C1532.9 3112.9 1546.2 3119.2 1559.4 3125 C1572.6 3130.8 1585.8 3136.4 1599 3141.4 C1612.2 3146.4 1621.9 3151 1638.7 3155 C1655.5 3158.9 1682.9 3162.3 1699.7 3165 C1716.5 3167.6 1726.2 3169.6 1739.4 3170.8 C1752.6 3172.1 1765.8 3172.5 1779 3172.4 C1792.2 3172.3 1801.9 3171.5 1818.7 3170.2 C1835.5 3168.9 1862.9 3167 1879.7 3164.8 C1896.5 3162.6 1906.2 3160 1919.4 3156.9 C1932.6 3153.8 1945.8 3150.5 1959 3146.4 C1972.2 3142.4 1981.1 3137.6 1998.7 3132.6 C2016.3 3127.5 2047.7 3121.6 2064.4 3116.1 C2081.1 3110.5 2087.3 3104.8 2098.8 3099.3 C2110.3 3093.8 2121.7 3088.5 2133.2 3083.1 C2144.7 3077.8 2156.1 3072.6 2167.6 3067.3 C2179.1 3062.1 2190.5 3056.7 2202 3051.5 C2213.5 3046.3 2226.1 3041.2 2236.4 3036.2 C2246.7 3031.3 2259.4 3024.2 2264 3021.8" fill="none" stroke="#800000" stroke-width="9.5" stroke-linecap="round" stroke-linejoin="round" clip-path="url(#cb)"/>
<path d="M396 2316.4 C400.4 2319.9 413.7 2330 422.5 2337.2 C431.3 2344.4 440.1 2352 448.9 2359.6 C457.7 2367.1 466.6 2375 475.4 2382.7 C484.2 2390.4 493 2398 501.8 2405.6 C510.6 2413.2 519.5 2420.6 528.3 2428.1 C537.1 2435.7 546.1 2443.1 554.7 2450.9 C563.3 2458.8 571.4 2466.8 580 2475.1 C588.6 2483.3 597.7 2492.2 606.5 2500.7 C615.3 2509.2 624.1 2518 632.9 2526.1 C641.7 2534.3 650.6 2542.2 659.4 2549.7 C668.2 2557.3 677 2564.5 685.8 2571.5 C694.6 2578.5 703.5 2585.3 712.3 2591.8 C721.1 2598.3 729.9 2604.3 738.7 2610.6 C747.5 2616.8 754.8 2622.6 765 2629.1 C775.2 2635.7 787.3 2642.5 799.7 2649.9 C812.1 2657.2 826.2 2665.2 839.4 2673.2 C852.6 2681.3 865.8 2689.6 879 2698.1 C892.2 2706.5 901.9 2715.2 918.7 2723.7 C935.5 2732.2 962.9 2740.9 979.7 2749.2 C996.5 2757.4 1006.2 2765 1019.4 2773.1 C1032.6 2781.1 1045.8 2788.4 1059 2797.6 C1072.2 2806.7 1081.9 2816.8 1098.7 2828 C1115.5 2839.2 1142.9 2852.3 1159.7 2864.6 C1176.5 2876.9 1186.2 2889.6 1199.4 2902 C1212.6 2914.4 1222.2 2926.7 1239 2939.2 C1255.8 2951.7 1283.2 2964.8 1300 2977 C1316.8 2989.1 1326.5 3001.1 1339.7 3012.1 C1352.9 3023.2 1366.2 3033.3 1379.4 3043.4 C1392.6 3053.5 1402.2 3063.3 1419 3072.8 C1435.8 3082.3 1463.2 3091.7 1480 3100.4 C1496.8 3109 1506.5 3117 1519.7 3124.5 C1532.9 3131.9 1546.2 3138.7 1559.4 3145 C1572.6 3151.4 1585.8 3157.2 1599 3162.3 C1612.2 3167.5 1621.9 3172.2 1638.7 3176.1 C1655.5 3180.1 1682.9 3183.5 1699.7 3186.1 C1716.5 3188.7 1726.2 3190.6 1739.4 3191.9 C1752.6 3193.1 1765.8 3193.7 1779 3193.7 C1792.2 3193.6 1801.9 3192.9 1818.7 3191.7 C1835.5 3190.4 1862.9 3188.5 1879.7 3186.1 C1896.5 3183.8 1906.2 3181 1919.4 3177.7 C1932.6 3174.4 1945.8 3170.9 1959 3166.5 C1972.2 3162.1 1981.1 3156.9 1998.7 3151.4 C2016.3 3145.9 2047.7 3139.4 2064.4 3133.5 C2081.1 3127.7 2087.3 3121.6 2098.8 3116.2 C2110.3 3110.7 2121.7 3105.7 2133.2 3100.7 C2144.7 3095.7 2156.1 3091.1 2167.6 3086.4 C2179.1 3081.8 2190.5 3077.1 2202 3072.8 C2213.5 3068.5 2225 3064.3 2236.4 3060.4 C2247.8 3056.5 2265 3051.1 2270.7 3049.3" fill="none" stroke="#ff8000" stroke-width="9.5" stroke-linecap="round" stroke-linejoin="round" clip-path="url(#cb)"/>
<path d="M396 2303.2 C400.4 2306.6 413.7 2316.6 422.5 2323.7 C431.3 2330.9 440.1 2338.4 448.9 2346.1 C457.7 2353.8 466.6 2361.9 475.4 2369.7 C484.2 2377.5 493 2385.3 501.8 2392.9 C510.6 2400.6 519.5 2407.9 528.3 2415.6 C537.1 2423.3 546.1 2431 554.7 2439.1 C563.3 2447.1 571.4 2455.6 580 2464 C588.6 2472.4 597.7 2481.2 606.5 2489.6 C615.3 2498 624.1 2506.4 632.9 2514.5 C641.7 2522.6 650.6 2530.5 659.4 2538.3 C668.2 2546.1 677 2553.8 685.8 2561.2 C694.6 2568.6 703.5 2575.8 712.3 2582.7 C721.1 2589.6 729.9 2595.9 738.7 2602.5 C747.5 2609 754.8 2615.1 765 2622 C775.2 2629 787.3 2636.1 799.7 2644.1 C812.1 2652.1 826.2 2660.9 839.4 2669.7 C852.6 2678.6 865.8 2688.2 879 2697.1 C892.2 2706 908.5 2714.9 918.7 2723.3 C928.9 2731.8 929.8 2739.7 940 2747.9 C950.2 2756.2 966.5 2764.2 979.7 2772.9 C992.9 2781.6 1006.2 2790.3 1019.4 2800 C1032.6 2809.6 1042.2 2820.1 1059 2830.7 C1075.8 2841.3 1103.2 2852.9 1120 2863.6 C1136.8 2874.3 1146.5 2884.4 1159.7 2894.7 C1172.9 2904.9 1184.4 2914.4 1199.4 2925 C1214.5 2935.6 1233.2 2946.9 1250 2958.2 C1266.8 2969.5 1285 2981.5 1300 2992.7 C1315 3003.9 1326.5 3014.8 1339.7 3025.5 C1352.9 3036.2 1366 3046.5 1379.4 3056.9 C1392.8 3067.2 1403.2 3077.7 1420 3087.7 C1436.8 3097.7 1463.4 3107.7 1480 3116.7 C1496.6 3125.7 1506.5 3134.1 1519.7 3141.9 C1532.9 3149.6 1546.2 3156.7 1559.4 3163.1 C1572.6 3169.6 1585.8 3175.5 1599 3180.7 C1612.2 3185.9 1621.9 3190.4 1638.7 3194.3 C1655.5 3198.1 1682.9 3201.4 1699.7 3203.9 C1716.5 3206.5 1726.2 3208.4 1739.4 3209.7 C1752.6 3211 1765.8 3211.6 1779 3211.7 C1792.2 3211.7 1801.9 3211.2 1818.7 3210.1 C1835.5 3209 1862.9 3207.4 1879.7 3205.2 C1896.5 3203.1 1906.2 3200.6 1919.4 3197.4 C1932.6 3194.2 1945.8 3190.6 1959 3186 C1972.2 3181.4 1981.1 3175.8 1998.7 3169.8 C2016.3 3163.9 2047.7 3156.7 2064.4 3150.4 C2081.1 3144 2087.3 3137.6 2098.8 3131.7 C2110.3 3125.8 2121.7 3120.4 2133.2 3114.9 C2144.7 3109.3 2156.1 3103.9 2167.6 3098.4 C2179.1 3092.9 2190.5 3087.5 2202 3082 C2213.5 3076.4 2224.1 3070.9 2236.4 3065 C2248.7 3059.1 2269.3 3049.7 2275.9 3046.7" fill="none" stroke="#8000ff" stroke-width="9.5" stroke-linecap="round" stroke-linejoin="round" clip-path="url(#cb)"/>
<rect x="396" y="2079" width="1889" height="1474.5" fill="none" stroke="#000" stroke-width="9.5" stroke-linejoin="round"/>
<line x1="396" y1="3471.3" x2="417" y2="3471.3" stroke="#000000" stroke-width="9.5" stroke-linecap="round"/>
<line x1="396" y1="3389.4" x2="439.5" y2="3389.4" stroke="#000000" stroke-width="9.5" stroke-linecap="round"/>
<line x1="396" y1="3307.5" x2="417" y2="3307.5" stroke="#000000" stroke-width="9.5" stroke-linecap="round"/>
<line x1="396" y1="3225.6" x2="439.5" y2="3225.6" stroke="#000000" stroke-width="9.5" stroke-linecap="round"/>
<line x1="396" y1="3143.7" x2="417" y2="3143.7" stroke="#000000" stroke-width="9.5" stroke-linecap="round"/>
<line x1="396" y1="3061.8" x2="439.5" y2="3061.8" stroke="#000000" stroke-width="9.5" stroke-linecap="round"/>
<line x1="396" y1="2979.9" x2="417" y2="2979.9" stroke="#000000" stroke-width="9.5" stroke-linecap="round"/>
<line x1="396" y1="2898" x2="439.5" y2="2898" stroke="#000000" stroke-width="9.5" stroke-linecap="round"/>
<line x1="396" y1="2816.1" x2="417" y2="2816.1" stroke="#000000" stroke-width="9.5" stroke-linecap="round"/>
<line x1="396" y1="2734.2" x2="439.5" y2="2734.2" stroke="#000000" stroke-width="9.5" stroke-linecap="round"/>
<line x1="396" y1="2652.3" x2="417" y2="2652.3" stroke="#000000" stroke-width="9.5" stroke-linecap="round"/>
<line x1="396" y1="2570.4" x2="439.5" y2="2570.4" stroke="#000000" stroke-width="9.5" stroke-linecap="round"/>
<line x1="396" y1="2488.5" x2="417" y2="2488.5" stroke="#000000" stroke-width="9.5" stroke-linecap="round"/>
<line x1="396" y1="2406.6" x2="439.5" y2="2406.6" stroke="#000000" stroke-width="9.5" stroke-linecap="round"/>
<line x1="396" y1="2324.7" x2="417" y2="2324.7" stroke="#000000" stroke-width="9.5" stroke-linecap="round"/>
<line x1="396" y1="2242.8" x2="439.5" y2="2242.8" stroke="#000000" stroke-width="9.5" stroke-linecap="round"/>
<line x1="396" y1="2160.9" x2="417" y2="2160.9" stroke="#000000" stroke-width="9.5" stroke-linecap="round"/>
<line x1="584.9" y1="3553" x2="584.9" y2="3536" stroke="#000000" stroke-width="9" stroke-linecap="round"/>
<line x1="773.8" y1="3553" x2="773.8" y2="3512.5" stroke="#000000" stroke-width="9" stroke-linecap="round"/>
<line x1="962.7" y1="3553" x2="962.7" y2="3536" stroke="#000000" stroke-width="9" stroke-linecap="round"/>
<line x1="1151.6" y1="3553" x2="1151.6" y2="3512.5" stroke="#000000" stroke-width="9" stroke-linecap="round"/>
<line x1="1340.5" y1="3553" x2="1340.5" y2="3536" stroke="#000000" stroke-width="9" stroke-linecap="round"/>
<line x1="1529.4" y1="3553" x2="1529.4" y2="3512.5" stroke="#000000" stroke-width="9" stroke-linecap="round"/>
<line x1="1718.3" y1="3553" x2="1718.3" y2="3536" stroke="#000000" stroke-width="9" stroke-linecap="round"/>
<line x1="1907.2" y1="3553" x2="1907.2" y2="3512.5" stroke="#000000" stroke-width="9" stroke-linecap="round"/>
<line x1="2096.1" y1="3553" x2="2096.1" y2="3536" stroke="#000000" stroke-width="9" stroke-linecap="round"/>
<text x="346" y="3586.2" font-size="83" text-anchor="end">5.5</text>
<text x="346" y="3422.4" font-size="83" text-anchor="end">6.0</text>
<text x="346" y="3258.6" font-size="83" text-anchor="end">6.5</text>
<text x="346" y="3094.8" font-size="83" text-anchor="end">7.0</text>
<text x="346" y="2931" font-size="83" text-anchor="end">7.5</text>
<text x="346" y="2767.2" font-size="83" text-anchor="end">8.0</text>
<text x="346" y="2603.4" font-size="83" text-anchor="end">8.5</text>
<text x="346" y="2439.6" font-size="83" text-anchor="end">9.0</text>
<text x="346" y="2275.8" font-size="83" text-anchor="end">9.5</text>
<text x="346" y="2112" font-size="83" text-anchor="end">10.0</text>
<text x="396" y="3666" font-size="83" text-anchor="middle">&#8722;0.2</text>
<text x="773.8" y="3666" font-size="83" text-anchor="middle">0.0</text>
<text x="1151.6" y="3666" font-size="83" text-anchor="middle">0.2</text>
<text x="1529.4" y="3666" font-size="83" text-anchor="middle">0.4</text>
<text x="1907.2" y="3666" font-size="83" text-anchor="middle">0.6</text>
<text x="2285" y="3666" font-size="83" text-anchor="middle">0.8</text>
<text x="1211" y="3775" font-size="91" font-style="italic">V</text>
<text x="1267" y="3801" font-size="50">GS</text>
<text x="1356" y="3775" font-size="91" textLength="111" lengthAdjust="spacingAndGlyphs">(V)</text>
<g transform="translate(134,2852) rotate(-90)">
<text transform="translate(1,0) scale(0.9,1)" font-size="88" font-style="italic">I</text>
<text x="27" y="29" font-size="53">DS</text>
<text x="93" y="0" font-size="88">(&#956;A)</text>
</g>
<text x="80" y="3798" font-size="108" textLength="122" lengthAdjust="spacingAndGlyphs">(<tspan font-weight="bold">b</tspan>)</text>
<path d="M436 2800 L645 2800" stroke="#000" stroke-width="9" stroke-linecap="round" stroke-dasharray="38 47"/>
<text x="680" y="2831.4" font-size="86" textLength="284" lengthAdjust="spacingAndGlyphs">Pristine</text>
<line x1="436" y1="2912" x2="659" y2="2912" stroke="#ff0000" stroke-width="10" stroke-linecap="round"/>
<text x="679" y="2943.3" font-size="86" textLength="263" lengthAdjust="spacingAndGlyphs">PBASE</text>
<line x1="436" y1="3024" x2="659" y2="3024" stroke="#0000ff" stroke-width="10" stroke-linecap="round"/>
<text x="678" y="3055.6" font-size="86" textLength="513" lengthAdjust="spacingAndGlyphs">10 ag/ml ACE</text>
<line x1="436" y1="3136" x2="659" y2="3136" stroke="#008000" stroke-width="10" stroke-linecap="round"/>
<text x="678" y="3167.1" font-size="86" textLength="501" lengthAdjust="spacingAndGlyphs">10 fg/ml ACE</text>
<line x1="436" y1="3247.5" x2="659" y2="3247.5" stroke="#800000" stroke-width="10" stroke-linecap="round"/>
<text x="678" y="3278.4" font-size="86" textLength="523" lengthAdjust="spacingAndGlyphs">10 pg/ml ACE</text>
<line x1="436" y1="3360" x2="659" y2="3360" stroke="#ff8000" stroke-width="10" stroke-linecap="round"/>
<text x="678" y="3390.9" font-size="86" textLength="521" lengthAdjust="spacingAndGlyphs">10 ng/ml ACE</text>
<line x1="451" y1="3465" x2="670" y2="3465" stroke="#8000ff" stroke-width="10" stroke-linecap="round"/>
<text x="687" y="3495" font-size="86" textLength="519" lengthAdjust="spacingAndGlyphs">10 &#956;g/ml ACE</text>
<text x="1383" y="3490" font-size="88" textLength="750" lengthAdjust="spacingAndGlyphs">MW-PECVD-G-FET</text>
<line x1="1779.8" y1="3216" x2="1779.8" y2="3325" stroke="#000000" stroke-width="6" stroke-linecap="round"/>
<line x1="1939.6" y1="3101" x2="1939.6" y2="3327" stroke="#000000" stroke-width="6" stroke-linecap="round"/>
<line x1="1810" y1="3290.5" x2="1910" y2="3290.5" stroke="#000000" stroke-width="6.5" stroke-linecap="butt"/>
<path d="M1782 3290.5 L1825 3277 L1816.5 3290.5 L1825 3304.5 Z" fill="#000" stroke="#000" stroke-width="2.5" stroke-linejoin="round"/>
<path d="M1936.5 3290.5 L1894 3277 L1902 3290.5 L1894 3304.5 Z" fill="#000" stroke="#000" stroke-width="2.5" stroke-linejoin="round"/>
<text x="1958" y="3314" font-size="85">&#916;</text>
<text x="2000" y="3314" font-size="85" font-style="italic">V</text>
<text x="2064" y="3343" font-size="48">D</text>
<rect x="1360" y="2079" width="925" height="662.5" fill="#fefefe"/>
<path d="M1631 2076 C1624.3 2108 1604.7 2212.3 1591 2268 C1577.3 2323.7 1561.3 2364.2 1549 2410 C1536.7 2455.8 1528.8 2487.5 1517 2543 C1505.2 2598.5 1484.5 2709.7 1478 2743" fill="none" stroke="#800000" stroke-width="8" stroke-linecap="round" stroke-linejoin="round" clip-path="url(#cib)"/>
<path d="M1627 2076 C1620.7 2108 1601.8 2212.3 1589 2268 C1576.2 2323.7 1561.3 2364.2 1550 2410 C1538.7 2455.8 1532 2487.5 1521 2543 C1510 2598.5 1490.2 2709.7 1484 2743" fill="none" stroke="#ff8000" stroke-width="8" stroke-linecap="round" stroke-linejoin="round" clip-path="url(#cib)"/>
<path d="M1623 2076 C1616.8 2108 1598.1 2212.3 1585.6 2268 C1573 2323.7 1559.1 2364.2 1547.7 2410 C1536.3 2455.8 1529 2487.5 1517 2543 C1505 2598.5 1482.8 2709.7 1476 2743" fill="none" stroke="#8000ff" stroke-width="8" stroke-linecap="round" stroke-linejoin="round" clip-path="url(#cib)"/>
<path d="M1723 2076 C1712.8 2110.8 1677.5 2229.3 1661.6 2285 C1645.6 2340.7 1640.1 2367 1627.3 2410 C1614.5 2453 1600.8 2487.5 1584.8 2543 C1568.8 2598.5 1540.4 2709.7 1531.5 2743" fill="none" stroke="#008000" stroke-width="8" stroke-linecap="round" stroke-linejoin="round" clip-path="url(#cib)"/>
<path d="M1851 2076 C1839.3 2105.8 1801.5 2199.3 1780.7 2255 C1760 2310.7 1743.5 2362 1726.5 2410 C1709.5 2458 1691 2506.1 1679 2543 C1667 2579.9 1663.2 2598.2 1654.2 2631.5 C1645.2 2664.8 1629.9 2724.4 1625 2743" fill="none" stroke="#0000ff" stroke-width="8" stroke-linecap="round" stroke-linejoin="round" clip-path="url(#cib)"/>
<path d="M1935 2076 C1925.8 2097 1902.6 2146.3 1880 2202 C1857.4 2257.7 1820.1 2353.2 1799.3 2410 C1778.5 2466.8 1768.8 2506.1 1755.1 2543 C1741.4 2579.9 1729.3 2598.2 1717.1 2631.5 C1704.9 2664.8 1687.8 2724.4 1682 2743" fill="none" stroke="#ff0000" stroke-width="8" stroke-linecap="round" stroke-linejoin="round" clip-path="url(#cib)"/>
<line x1="1360" y1="2410" x2="2285" y2="2410" stroke="#000000" stroke-width="5" stroke-linecap="butt"/>
<path d="M1360 2079 L1360 2741.5 L2285 2741.5" fill="none" stroke="#000" stroke-width="5.5" stroke-linejoin="round"/>
<line x1="1360" y1="2674.6" x2="1384" y2="2674.6" stroke="#000000" stroke-width="5.5" stroke-linecap="round"/>
<line x1="1360" y1="2608.4" x2="1372" y2="2608.4" stroke="#000000" stroke-width="5.5" stroke-linecap="round"/>
<line x1="1360" y1="2542.3" x2="1384" y2="2542.3" stroke="#000000" stroke-width="5.5" stroke-linecap="round"/>
<line x1="1360" y1="2476.2" x2="1372" y2="2476.2" stroke="#000000" stroke-width="5.5" stroke-linecap="round"/>
<line x1="1360" y1="2343.8" x2="1372" y2="2343.8" stroke="#000000" stroke-width="5.5" stroke-linecap="round"/>
<line x1="1360" y1="2277.7" x2="1384" y2="2277.7" stroke="#000000" stroke-width="5.5" stroke-linecap="round"/>
<line x1="1360" y1="2211.6" x2="1372" y2="2211.6" stroke="#000000" stroke-width="5.5" stroke-linecap="round"/>
<line x1="1360" y1="2145.4" x2="1384" y2="2145.4" stroke="#000000" stroke-width="5.5" stroke-linecap="round"/>
<line x1="1433.7" y1="2741.5" x2="1433.7" y2="2716" stroke="#000000" stroke-width="5.5" stroke-linecap="round"/>
<line x1="1507.1" y1="2741.5" x2="1507.1" y2="2729" stroke="#000000" stroke-width="5.5" stroke-linecap="round"/>
<line x1="1580.5" y1="2741.5" x2="1580.5" y2="2716" stroke="#000000" stroke-width="5.5" stroke-linecap="round"/>
<line x1="1653.8" y1="2741.5" x2="1653.8" y2="2729" stroke="#000000" stroke-width="5.5" stroke-linecap="round"/>
<line x1="1727.2" y1="2741.5" x2="1727.2" y2="2716" stroke="#000000" stroke-width="5.5" stroke-linecap="round"/>
<line x1="1800.6" y1="2741.5" x2="1800.6" y2="2729" stroke="#000000" stroke-width="5.5" stroke-linecap="round"/>
<line x1="1874" y1="2741.5" x2="1874" y2="2716" stroke="#000000" stroke-width="5.5" stroke-linecap="round"/>
<line x1="1947.3" y1="2741.5" x2="1947.3" y2="2729" stroke="#000000" stroke-width="5.5" stroke-linecap="round"/>
<line x1="2020.7" y1="2741.5" x2="2020.7" y2="2716" stroke="#000000" stroke-width="5.5" stroke-linecap="round"/>
<line x1="2094.1" y1="2741.5" x2="2094.1" y2="2729" stroke="#000000" stroke-width="5.5" stroke-linecap="round"/>
<line x1="2167.4" y1="2741.5" x2="2167.4" y2="2716" stroke="#000000" stroke-width="5.5" stroke-linecap="round"/>
<line x1="2240.8" y1="2741.5" x2="2240.8" y2="2729" stroke="#000000" stroke-width="5.5" stroke-linecap="round"/>
<text x="1344" y="2171.9" font-size="68" text-anchor="end">0.4</text>
<text x="1344" y="2304.2" font-size="68" text-anchor="end">0.2</text>
<text x="1344" y="2436.5" font-size="68" text-anchor="end">0.0</text>
<text x="1344" y="2568.8" font-size="68" text-anchor="end">&#8722;0.2</text>
<text x="1344" y="2701.1" font-size="68" text-anchor="end">&#8722;0.4</text>
<text x="1433.7" y="2809" font-size="68" text-anchor="middle">0.50</text>
<text x="1580.5" y="2809" font-size="68" text-anchor="middle">0.55</text>
<text x="1727.2" y="2809" font-size="68" text-anchor="middle">0.60</text>
<text x="1874" y="2809" font-size="68" text-anchor="middle">0.65</text>
<text x="2020.7" y="2809" font-size="68" text-anchor="middle">0.70</text>
<text x="2167.4" y="2809" font-size="68" text-anchor="middle">0.75</text>
<text x="1742" y="2904" font-size="79" font-style="italic">V</text>
<text x="1790" y="2927" font-size="46">GS</text>
<text x="1871" y="2904" font-size="79" textLength="104" lengthAdjust="spacingAndGlyphs">(V)</text>
<g transform="translate(1182.4,2531.9) rotate(-90)">
<text x="0" y="0" font-size="80">d</text>
<text transform="translate(45,0) scale(0.85,1)" font-size="80" font-style="italic">I</text>
<text x="69.6" y="26" font-size="49">DS</text>
<text x="128.2" y="0" font-size="80">/</text>
<text x="153" y="0" font-size="80">d</text>
<text x="199.4" y="0" font-size="80" font-style="italic">V</text>
<text x="248.2" y="26" font-size="49">GS</text>
</g>
<line x1="1886" y1="2211" x2="2044" y2="2211" stroke="#ff0000" stroke-width="9" stroke-linecap="round"/>
<text x="2058" y="2234.2" font-size="60" font-weight="bold" textLength="188" lengthAdjust="spacingAndGlyphs">PBASE</text>
<line x1="1889" y1="2288.4" x2="2044" y2="2288.4" stroke="#0000ff" stroke-width="9" stroke-linecap="round"/>
<text x="2056" y="2310.7" font-size="60" font-weight="bold" textLength="222" lengthAdjust="spacingAndGlyphs">10 ag/ml</text>
<line x1="1889" y1="2366.4" x2="2044" y2="2366.4" stroke="#008000" stroke-width="9" stroke-linecap="round"/>
<text x="2056" y="2388.1" font-size="60" font-weight="bold" textLength="216" lengthAdjust="spacingAndGlyphs">10 fg/ml</text>
<line x1="1873" y1="2456.5" x2="2029" y2="2456.5" stroke="#800000" stroke-width="9" stroke-linecap="round"/>
<text x="2040" y="2476.8" font-size="60" font-weight="bold" textLength="229" lengthAdjust="spacingAndGlyphs">10 pg/ml</text>
<line x1="1873" y1="2534.5" x2="2029" y2="2534.5" stroke="#ff8000" stroke-width="9" stroke-linecap="round"/>
<text x="2040" y="2554.8" font-size="60" font-weight="bold" textLength="229" lengthAdjust="spacingAndGlyphs">10 ng/ml</text>
<line x1="1873" y1="2612.8" x2="2029" y2="2612.8" stroke="#8000ff" stroke-width="9" stroke-linecap="round"/>
<text x="2040" y="2632.1" font-size="60" font-weight="bold" textLength="226" lengthAdjust="spacingAndGlyphs">10 &#956;g/ml</text>
</g>
</svg>
</body></html>
